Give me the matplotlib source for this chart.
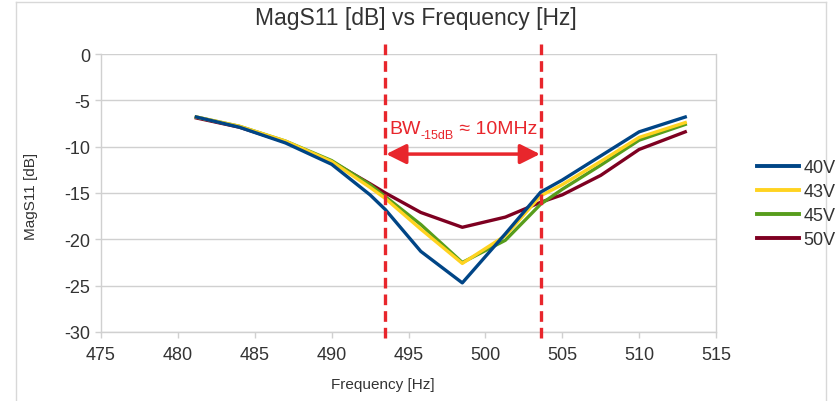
import matplotlib
matplotlib.use("Agg")
import matplotlib.pyplot as plt
from matplotlib.lines import Line2D
from matplotlib.transforms import offset_copy

plt.rcParams['font.family'] = ['Liberation Sans', 'DejaVu Sans']
plt.rcParams['axes.unicode_minus'] = False

freq = [481.2, 484.0, 487.0, 490.0, 492.5, 493.5, 495.8, 498.5, 501.3, 503.6, 505.0, 507.5, 510.0, 513.0]
s40 = [-6.8, -7.9, -9.6, -11.9, -15.2, -16.8, -21.3, -24.7, -19.4, -14.9, -13.6, -11.0, -8.4, -6.8]
s43 = [-6.8, -7.8, -9.4, -11.6, -14.4, -15.6, -18.9, -22.6, -19.6, -15.3, -14.1, -11.6, -9.0, -7.4]
s45 = [-6.8, -7.8, -9.4, -11.5, -14.1, -15.4, -18.4, -22.5, -20.1, -16.2, -14.6, -12.0, -9.3, -7.6]
s50 = [-6.9, -7.9, -9.5, -11.6, -14.0, -15.0, -17.1, -18.7, -17.6, -16.0, -15.2, -13.1, -10.3, -8.4]
labels = ['40V', '43V', '45V', '50V']
colors = ['#004586', '#ffd320', '#579d1c', '#7e0021']
series = [s40, s43, s45, s50]
bw_lo, bw_hi = 493.5, 503.6
bw_level = -10.8
xticks = list(range(475, 516, 5))
yticks = list(range(-30, 1, 5))

W, H = 836, 402
fig = plt.figure(figsize=(W / 100, H / 100), dpi=100)
ax = fig.add_axes([101 / W, 1 - 333 / H, (716 - 101) / W, (333 - 55) / H])

grid_c = '#d0d0d0'
txt_c = '#333333'
for i in reversed(range(4)):
    ax.plot(freq, series[i], color=colors[i], lw=2.4, zorder=3 + (4 - i) * 0.1,
            solid_joinstyle='round')

ax.set_xlim(475, 515)
ax.set_ylim(-30, 0)
ax.set_xticks(xticks)
ax.set_yticks(yticks)
ax.yaxis.grid(True, color=grid_c, lw=1.0)
ax.set_axisbelow(True)
for s in ['left', 'bottom', 'right', 'top']:
    ax.spines[s].set_color(grid_c)
    ax.spines[s].set_linewidth(1.0)
ax.spines['top'].set_visible(False)
ax.tick_params(axis='both', colors=grid_c, labelcolor=txt_c, labelsize=13,
               length=4, width=1.0)
ax.tick_params(axis='x', pad=6)
ax.tick_params(axis='y', pad=4)

fig.text(383 / W, 1 - 385 / H, 'Frequency [Hz]', ha='center', va='center',
         fontsize=11, color=txt_c)
fig.text(31 / W, 1 - 196 / H, 'MagS11 [dB]', ha='center', va='center',
         rotation=90, fontsize=11, color=txt_c)
fig.text(416 / W, 1 - 19 / H, 'MagS11 [dB] vs Frequency [Hz]',
         ha='center', va='center', fontsize=16.5, color=txt_c)

red = '#e8262c'
for xv in (bw_lo, bw_hi):
    ax.plot([xv, xv], [1.1, -30.7], color=red, lw=2.4, ls=(0, (3.2, 1.8)),
            clip_on=False, zorder=6)

ax.annotate('', xy=(bw_lo + 0.05, bw_level), xytext=(bw_hi - 0.05, bw_level),
            arrowprops=dict(arrowstyle='<|-|>', color=red, lw=2.5,
                            mutation_scale=30, shrinkA=0, shrinkB=0),
            zorder=7)

# BW label built from three pieces: "BW", subscript "-15dB", " ≈ 10MHz"
fig.canvas.draw()
r = fig.canvas.get_renderer()
t1 = ax.text(0, 0, 'BW', fontsize=14, color=red)
t2 = ax.text(0, 0, '-15dB', fontsize=9, color=red)
t3 = ax.text(0, 0, ' ≈ 10MHz', fontsize=14, color=red)
w1 = t1.get_window_extent(r).width
w2 = t2.get_window_extent(r).width
w3 = t3.get_window_extent(r).width
total = w1 + w2 + w3
cx = (bw_lo + bw_hi) / 2
ty = -8.5
base = ax.transData
t1.set_transform(offset_copy(base, fig=fig, x=-total / 2 * 72 / 100, y=0, units='points'))
t1.set_position((cx, ty))
t2.set_transform(offset_copy(base, fig=fig, x=(-total / 2 + w1) * 72 / 100, y=-3.5, units='points'))
t2.set_position((cx, ty))
t3.set_transform(offset_copy(base, fig=fig, x=(-total / 2 + w1 + w2) * 72 / 100, y=0, units='points'))
t3.set_position((cx, ty))
for t in (t1, t2, t3):
    t.set_ha('left')
    t.set_va('baseline')
    t.set_zorder(7)

handles = [Line2D([0], [0], color=c, lw=2.8) for c in colors]
leg = fig.legend(handles, labels, loc='upper left', bbox_to_anchor=(741 / W, 1 - 144 / H),
                 frameon=False, fontsize=13, handlelength=2.3, handletextpad=0.25,
                 labelspacing=0.38, labelcolor=txt_c)

# outer chart frame
fc = '#d8d8d8'
fig.add_artist(Line2D([16 / W, 16 / W], [0, 1 - 3 / H], color=fc, lw=1.0))
fig.add_artist(Line2D([16 / W, 826 / W], [1 - 3 / H, 1 - 3 / H], color=fc, lw=1.0))
fig.add_artist(Line2D([826 / W, 826 / W], [0, 1 - 3 / H], color=fc, lw=1.0))

fig.savefig('out.png', dpi=100)
